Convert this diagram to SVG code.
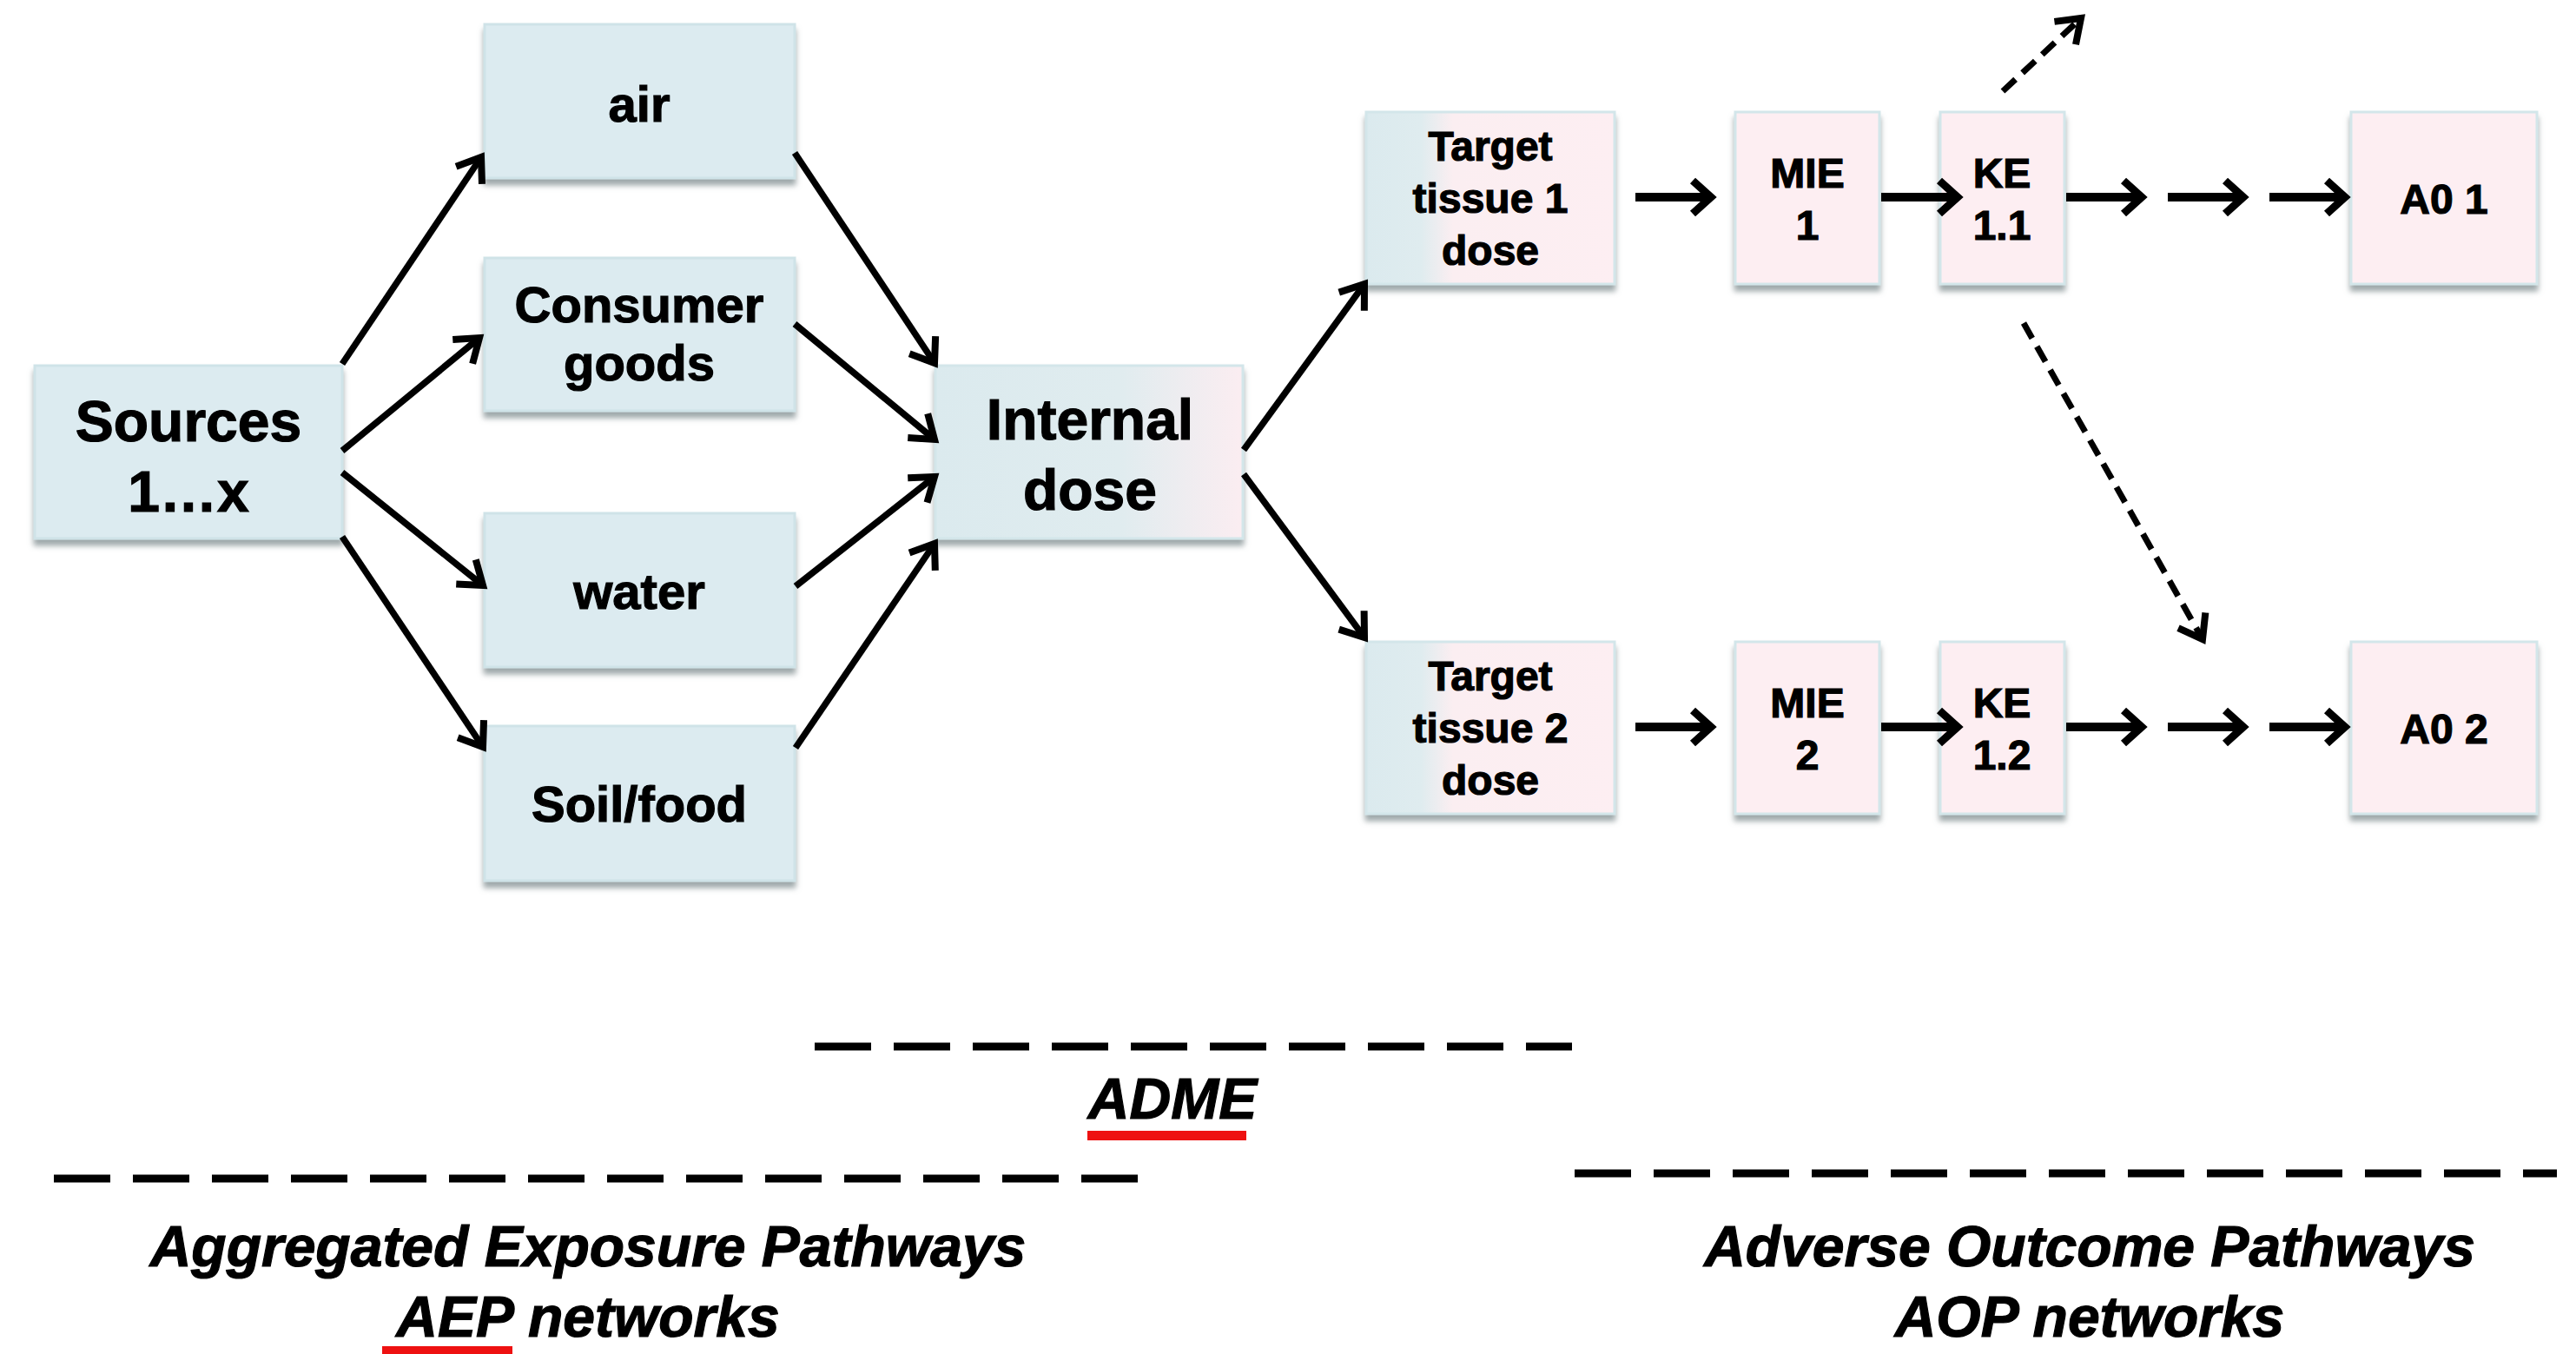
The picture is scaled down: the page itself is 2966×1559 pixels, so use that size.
<svg xmlns="http://www.w3.org/2000/svg" width="2966" height="1559" viewBox="0 0 2966 1559">
<defs>
<filter id="sh" x="-10%" y="-10%" width="120%" height="130%">
<feDropShadow dx="0" dy="7" stdDeviation="3" flood-color="#7f8c8f" flood-opacity="0.75"/>
</filter>
<linearGradient id="gT" x1="0" y1="0" x2="1" y2="0">
<stop offset="0" stop-color="#dbeaee"/>
<stop offset="0.22" stop-color="#dfecef"/>
<stop offset="0.35" stop-color="#fbeef1"/>
<stop offset="1" stop-color="#fdeef2"/>
</linearGradient>
<linearGradient id="gI" x1="0" y1="0" x2="1" y2="0">
<stop offset="0" stop-color="#dbeaee"/>
<stop offset="0.6" stop-color="#e0ecef"/>
<stop offset="1" stop-color="#fbedf1"/>
</linearGradient>
<marker id="ah" markerUnits="userSpaceOnUse" markerWidth="60" markerHeight="60" viewBox="-40 -30 60 60" refX="0" refY="0" orient="auto">
<path d="M-25,-18 L0,0 L-25,18" fill="none" stroke="#000" stroke-width="8" stroke-linejoin="miter" stroke-linecap="butt"/>
</marker>
<marker id="ahb" markerUnits="userSpaceOnUse" markerWidth="60" markerHeight="60" viewBox="-40 -30 60 60" refX="0" refY="0" orient="auto">
<path d="M-21,-19 L0,0 L-21,19" fill="none" stroke="#000" stroke-width="9" stroke-linejoin="miter" stroke-linecap="butt"/>
</marker>
</defs>
<style>
.b{fill:#dcebf0;stroke:#cfe3e8;stroke-width:3;filter:url(#sh)}
.p{fill:#fdeef2;stroke:#d3e6ea;stroke-width:3;filter:url(#sh)}
.t{fill:url(#gT);stroke:#d3e6ea;stroke-width:3;filter:url(#sh)}
.i{fill:url(#gI);stroke:#d3e6ea;stroke-width:3;filter:url(#sh)}
text{font-family:"Liberation Sans",Arial,sans-serif;font-weight:bold;fill:#000;stroke:#000;stroke-width:1.2;text-anchor:middle}
.f66{font-size:66px}
.f58{font-size:58px}
.f48{font-size:48px}
.it{font-style:italic;font-size:66px}
.c{fill:none;stroke:#000;stroke-width:7.5;marker-end:url(#ah)}
.h{fill:none;stroke:#000;stroke-width:10;marker-end:url(#ahb)}
.d{fill:none;stroke:#000;stroke-width:7;stroke-dasharray:20 11;marker-end:url(#ah)}
.sep{fill:none;stroke:#000;stroke-width:9;stroke-dasharray:65 26}
</style>
<rect width="2966" height="1559" fill="#fff"/>

<g id="n-sources"><rect class="b" x="40" y="421" width="354" height="199"/>
<text class="f66" x="217" y="508">Sources</text><text class="f66" x="217" y="589">1…x</text></g>
<g id="n-air"><rect class="b" x="558" y="28" width="357" height="177"/>
<text class="f58" x="736" y="140">air</text></g>
<g id="n-consumer"><rect class="b" x="558" y="297" width="357" height="176"/>
<text class="f58" x="736" y="371">Consumer</text><text class="f58" x="736" y="438">goods</text></g>
<g id="n-water"><rect class="b" x="558" y="591" width="357" height="177"/>
<text class="f58" x="736" y="701">water</text></g>
<g id="n-soil"><rect class="b" x="558" y="836" width="357" height="178"/>
<text class="f58" x="736" y="946">Soil/food</text></g>
<g id="n-internal"><rect class="i" x="1077" y="421" width="354" height="199"/>
<text class="f66" x="1255" y="506">Internal</text><text class="f66" x="1255" y="587">dose</text></g>

<g id="n-target1"><rect class="t" x="1573" y="129" width="286" height="198"/>
<text class="f48" x="1716" y="185">Target</text><text class="f48" x="1716" y="245">tissue 1</text><text class="f48" x="1716" y="305">dose</text></g>
<g id="n-mie1"><rect class="p" x="1998" y="129" width="166" height="198"/>
<text class="f48" x="2081" y="216">MIE</text><text class="f48" x="2081" y="276">1</text></g>
<g id="n-ke11"><rect class="p" x="2234" y="129" width="143" height="198"/>
<text class="f48" x="2305" y="216">KE</text><text class="f48" x="2305" y="276">1.1</text></g>
<g id="n-ao1"><rect class="p" x="2707" y="129" width="214" height="198"/>
<text class="f48" x="2814" y="246">A0 1</text></g>

<g id="n-target2"><rect class="t" x="1573" y="739" width="286" height="198"/>
<text class="f48" x="1716" y="795">Target</text><text class="f48" x="1716" y="855">tissue 2</text><text class="f48" x="1716" y="915">dose</text></g>
<g id="n-mie2"><rect class="p" x="1998" y="739" width="166" height="198"/>
<text class="f48" x="2081" y="826">MIE</text><text class="f48" x="2081" y="886">2</text></g>
<g id="n-ke12"><rect class="p" x="2234" y="739" width="143" height="198"/>
<text class="f48" x="2305" y="826">KE</text><text class="f48" x="2305" y="886">1.2</text></g>
<g id="n-ao2"><rect class="p" x="2707" y="739" width="214" height="198"/>
<text class="f48" x="2814" y="856">A0 2</text></g>

<g id="connectors">
<line class="c" x1="394" y1="419" x2="554" y2="181"/>
<line class="c" x1="394" y1="519" x2="552" y2="389"/>
<line class="c" x1="394" y1="544" x2="556" y2="674"/>
<line class="c" x1="394" y1="618" x2="556" y2="860"/>
<line class="c" x1="915" y1="176" x2="1076" y2="418"/>
<line class="c" x1="915" y1="373" x2="1076" y2="506"/>
<line class="c" x1="916" y1="675" x2="1076" y2="549"/>
<line class="c" x1="916" y1="861" x2="1076" y2="626"/>
<line class="c" x1="1432" y1="518" x2="1571" y2="327"/>
<line class="c" x1="1432" y1="546" x2="1571" y2="734"/>
<line class="h" x1="1883" y1="227" x2="1970" y2="227"/>
<line class="h" x1="2166" y1="227" x2="2254" y2="227"/>
<line class="h" x1="2379" y1="227" x2="2466" y2="227"/>
<line class="h" x1="2496" y1="227" x2="2583" y2="227"/>
<line class="h" x1="2613" y1="227" x2="2700" y2="227"/>
<line class="h" x1="1883" y1="837" x2="1970" y2="837"/>
<line class="h" x1="2166" y1="837" x2="2254" y2="837"/>
<line class="h" x1="2379" y1="837" x2="2466" y2="837"/>
<line class="h" x1="2496" y1="837" x2="2583" y2="837"/>
<line class="h" x1="2613" y1="837" x2="2700" y2="837"/>
<line class="d" x1="2306" y1="105" x2="2396" y2="21"/>
<line class="d" x1="2330" y1="372" x2="2536" y2="736"/>
</g>

<g id="legend">
<line class="sep" x1="938" y1="1205" x2="1810" y2="1205"/>
<text class="it" x="1350" y="1288">ADME</text>
<rect x="1252" y="1302" width="183" height="11" fill="#ee1111"/>
<line class="sep" x1="62" y1="1357" x2="1316" y2="1357"/>
<text class="it" x="677" y="1458">Aggregated Exposure Pathways</text>
<text class="it" x="677" y="1539">AEP networks</text>
<rect x="440" y="1550" width="150" height="9" fill="#ee1111"/>
<line class="sep" x1="1813" y1="1351" x2="2944" y2="1351"/>
<text class="it" x="2406" y="1458">Adverse Outcome Pathways</text>
<text class="it" x="2406" y="1539">AOP networks</text>
</g>
</svg>
